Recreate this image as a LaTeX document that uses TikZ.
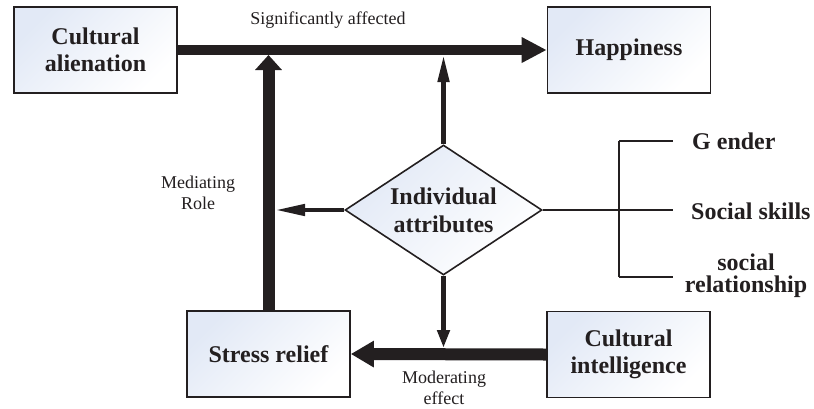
\documentclass[tikz,border=0pt]{standalone}
\usepackage{fontspec}
\setmainfont{Liberation Serif}
\usetikzlibrary{arrows.meta,shapes.geometric}
\definecolor{ink}{RGB}{35,31,32}
\definecolor{boxtint}{RGB}{226,233,246}
\begin{document}
\begin{tikzpicture}[x=1pt,y=-1pt,
  box/.style={rectangle,draw=ink,line width=1.6pt,minimum width=163pt,minimum height=86pt,
    inner sep=0pt,align=center,top color=boxtint,bottom color=white,shading angle=45,
    text=ink,font=\fontsize{24}{27}\selectfont\bfseries},
  decision/.style={diamond,aspect=1.5,draw=ink,line width=1.6pt,minimum width=197pt,minimum height=130pt,
    inner sep=0pt,align=center,top color=boxtint,bottom color=white,shading angle=45,
    text=ink,font=\fontsize{24}{28}\selectfont\bfseries},
  lbl/.style={inner sep=0pt,align=center,text=ink,font=\fontsize{18}{21}\selectfont},
  attr/.style={inner sep=0pt,align=center,text=ink,font=\fontsize{24}{22}\selectfont\bfseries},
  bigarrow/.style={draw=ink,line width=#1},
  thinarrow/.style={draw=ink,line width=4.5pt},
  bracketline/.style={draw=ink,line width=2.2pt}
]
\useasboundingbox (0,0) rectangle (814,408);
\fill[white] (0,0) rectangle (814,408);

\node[box] (ca) at (95.5,50) {Cultural\\alienation};
\node[box] (hap) at (629,50) {Happiness};
\node[box] (sr) at (268.5,354) {Stress relief};
\node[box] (ci) at (628.5,354.5) {Cultural\\intelligence};
\node[decision] (ia) at (443.5,210) {Individual\\attributes};

\coordinate (jA) at (268,55);
\coordinate (jB) at (275,210);
\coordinate (jC) at (443.5,348);
\coordinate (bm) at (619,210);
\coordinate (bt) at (619,141);
\coordinate (bb) at (619,277);
\coordinate (et) at (673,141);
\coordinate (em) at (673,210);
\coordinate (eb) at (673,277);

\draw[bigarrow=10pt,-{Triangle[length=25pt,width=24pt]},ink] (ca.east) -- (hap.west);
\draw[bigarrow=12pt,-{Triangle[length=15pt,width=26pt]},ink] (sr.north) -- (sr.north |- jA);
\draw[thinarrow,-{Triangle[length=27pt,width=11pt]},ink] (ia.north) -- (ia.north |- jA);
\draw[thinarrow,-{Triangle[length=30pt,width=11pt]},ink] (ia.west) -- (jB);
\draw[thinarrow,-{Triangle[length=18pt,width=12pt]},ink] (ia.south) -- (jC);
\draw[bigarrow=12pt,-{Triangle[length=23pt,width=25pt]},ink] (ci.west) -- (sr.east);

\draw[bracketline] (ia.east) -- (bm);
\draw[bracketline] (bt) -- (bb);
\draw[bracketline] (bt) -- (et);
\draw[bracketline] (bm) -- (em);
\draw[bracketline] (bb) -- (eb);

\node[lbl] (sig) at (328,20) {Significantly affected};
\node[lbl] (med) at (198,193) {Mediating\\Role};
\node[lbl] (mod) at (444,388) {Moderating\\effect};
\node[attr,anchor=west] (gen) at (692,141) {G ender};
\node[attr,anchor=west] (ss) at (691,211) {Social skills};
\node[attr] (rel) at (746,276) {social\\relationship};
\end{tikzpicture}
\end{document}
